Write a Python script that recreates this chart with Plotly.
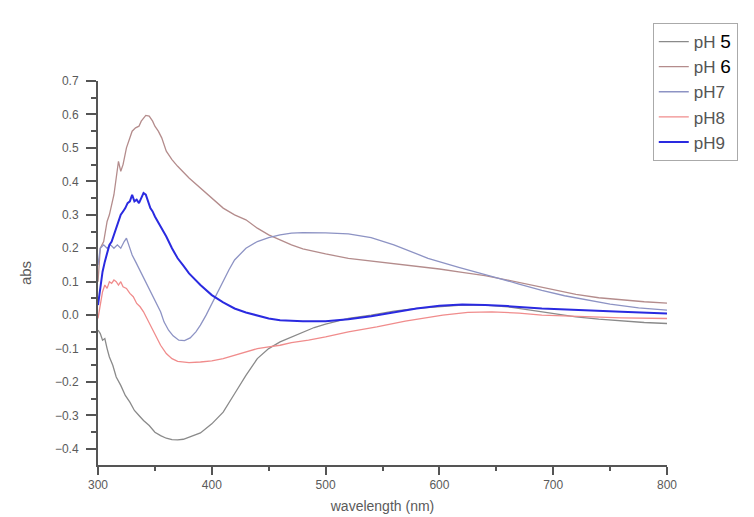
import plotly.graph_objects as go

# ---- data ----
wl_ph5 = [300, 302, 304, 306, 308, 310, 313, 316, 320, 324, 328, 332, 336, 340, 345, 350, 355, 360, 365,
          370, 375, 380, 390, 400, 410, 420, 430, 440, 450, 460, 470, 480, 490, 500, 520, 540, 560, 580,
          600, 620, 640, 660, 680, 700, 720, 740, 760, 780, 800]
abs_ph5 = [-0.045, -0.055, -0.075, -0.07, -0.1, -0.125, -0.15, -0.185, -0.21, -0.24, -0.26, -0.285, -0.3,
           -0.315, -0.33, -0.35, -0.36, -0.368, -0.372, -0.373, -0.371, -0.365, -0.352, -0.325, -0.29,
           -0.235, -0.18, -0.13, -0.1, -0.08, -0.065, -0.05, -0.037, -0.027, -0.01, 0.0, 0.012, 0.02,
           0.025, 0.03, 0.03, 0.025, 0.015, 0.005, -0.005, -0.012, -0.018, -0.022, -0.025]

wl_ph6 = [300, 302, 305, 308, 310, 312, 314, 316, 318, 320, 322, 325, 328, 330, 333, 336, 338, 340, 342,
          345, 348, 350, 353, 356, 360, 365, 370, 380, 390, 400, 410, 420, 430, 440, 450, 460, 470, 480,
          490, 500, 520, 540, 560, 580, 600, 620, 640, 660, 680, 700, 720, 740, 760, 780, 800]
abs_ph6 = [0.1, 0.2, 0.22, 0.28, 0.3, 0.33, 0.36, 0.41, 0.46, 0.43, 0.45, 0.5, 0.53, 0.55, 0.56, 0.565,
           0.58, 0.59, 0.597, 0.595, 0.58, 0.565, 0.55, 0.53, 0.49, 0.465, 0.445, 0.41, 0.38, 0.35, 0.32,
           0.3, 0.285, 0.26, 0.24, 0.225, 0.21, 0.198, 0.19, 0.183, 0.17, 0.162, 0.155, 0.147, 0.138,
           0.128, 0.118, 0.105, 0.09, 0.075, 0.062, 0.052, 0.045, 0.04, 0.036]

wl_ph7 = [300, 302, 305, 308, 311, 314, 317, 320, 323, 325, 327, 330, 333, 336, 339, 342, 345, 348, 351,
          355, 358, 362, 366, 371, 376, 381, 386, 390, 395, 400, 405, 410, 415, 420, 430, 440, 450, 460,
          470, 480, 490, 500, 520, 540, 560, 573, 590, 617, 630, 649, 670, 690, 710, 730, 750, 775, 800]
abs_ph7 = [0.15, 0.2, 0.21, 0.2, 0.21, 0.2, 0.21, 0.2, 0.22, 0.23, 0.21, 0.18, 0.16, 0.14, 0.12, 0.1,
           0.08, 0.06, 0.04, 0.01, -0.02, -0.045, -0.062, -0.075, -0.076, -0.068, -0.05, -0.03, 0.0,
           0.035, 0.065, 0.1, 0.135, 0.165, 0.2, 0.22, 0.232, 0.24, 0.245, 0.247, 0.247, 0.246, 0.243,
           0.232, 0.21, 0.192, 0.17, 0.143, 0.13, 0.113, 0.093, 0.074, 0.058, 0.045, 0.033, 0.022, 0.015]

wl_ph8 = [300, 302, 304, 306, 308, 310, 312, 314, 316, 318, 320, 322, 325, 328, 331, 334, 337, 340, 343,
          346, 350, 355, 360, 365, 370, 380, 390, 400, 410, 420, 430, 440, 450, 460, 470, 485, 500, 520,
          545, 570, 603, 625, 646, 670, 690, 720, 760, 800]
abs_ph8 = [-0.01, 0.03, 0.07, 0.09, 0.08, 0.1, 0.095, 0.105, 0.1, 0.09, 0.1, 0.085, 0.08, 0.065, 0.055,
           0.035, 0.025, 0.01, -0.01, -0.03, -0.06, -0.09, -0.115, -0.13, -0.138, -0.142, -0.14, -0.137,
           -0.13, -0.12, -0.11, -0.1, -0.095, -0.09, -0.082, -0.075, -0.065, -0.05, -0.035, -0.018,
           0.0, 0.008, 0.01, 0.006, 0.0, -0.004, -0.008, -0.01]

wl_ph9 = [300, 302, 304, 306, 308, 310, 312, 314, 316, 318, 320, 322, 324, 326, 328, 330, 332, 334, 336,
          338, 340, 342, 344, 346, 348, 350, 355, 360, 365, 370, 375, 380, 390, 400, 410, 420, 430, 440,
          450, 460, 480, 500, 520, 540, 560, 580, 600, 620, 640, 660, 690, 720, 760, 800]
abs_ph9 = [0.03, 0.08, 0.13, 0.16, 0.19, 0.21, 0.22, 0.24, 0.26, 0.28, 0.3, 0.31, 0.32, 0.335, 0.34, 0.36,
           0.34, 0.345, 0.335, 0.35, 0.365, 0.36, 0.34, 0.32, 0.31, 0.295, 0.265, 0.235, 0.2, 0.17, 0.148,
           0.125, 0.09, 0.06, 0.038, 0.02, 0.008, -0.002, -0.01, -0.015, -0.018, -0.018, -0.012, -0.003,
           0.008, 0.02, 0.028, 0.032, 0.03, 0.027, 0.02, 0.015, 0.01, 0.005]

x_ticks = [300, 400, 500, 600, 700, 800]
y_ticks = [0.7, 0.6, 0.5, 0.4, 0.3, 0.2, 0.1, 0.0, -0.1, -0.2, -0.3, -0.4]

series = [
    ("pH <span style='color:#000000;font-size:19px'>5</span>", wl_ph5, abs_ph5, "#8a8a8a", 1.3),
    ("pH <span style='color:#000000;font-size:19px'>6</span>", wl_ph6, abs_ph6, "#b48c8c", 1.3),
    ("pH7", wl_ph7, abs_ph7, "#8d93c4", 1.3),
    ("pH8", wl_ph8, abs_ph8, "#f08c8c", 1.3),
    ("pH9", wl_ph9, abs_ph9, "#2a2ae0", 2.0),
]

fig = go.Figure()
for name, x, y, color, w in series:
    fig.add_trace(go.Scatter(x=x, y=y, mode="lines", name=name,
                             line=dict(color=color, width=w)))

FONT = "Liberation Sans, Arial, sans-serif"
axis_common = dict(
    showline=True, linecolor="#555555", linewidth=2, showgrid=False, zeroline=False,
    ticks="outside", tickwidth=1.5, tickcolor="#555555",
    tickfont=dict(family=FONT, size=12, color="#5a5a5a"),
)

fig.update_xaxes(range=[300, 800], tickvals=x_ticks, ticklen=8,
                 minor=dict(dtick=50, ticks="outside", ticklen=4, tickcolor="#555555"),
                 title=dict(text="wavelength (nm)",
                            font=dict(family=FONT, size=14, color="#5a5a5a"),
                            standoff=10),
                 **axis_common)
fig.update_yaxes(range=[-0.448, 0.7], tickvals=y_ticks, tickformat=".1f", ticklen=10,
                 ticklabelstandoff=5,
                 minor=dict(dtick=0.05, ticks="outside", ticklen=5, tickcolor="#555555"),
                 title=dict(text="abs",
                            font=dict(family=FONT, size=15, color="#5a5a5a"),
                            standoff=20),
                 **axis_common)

fig.update_layout(
    width=754, height=517,
    margin=dict(l=90, r=95, t=73, b=60, autoexpand=False),
    plot_bgcolor="white", paper_bgcolor="white",
    showlegend=True,
    legend=dict(x=0.975, y=1.151, xanchor="left", yanchor="top",
                bordercolor="#aaaaaa", borderwidth=1, bgcolor="white",
                font=dict(family=FONT, size=17, color="#555555"),
                tracegroupgap=0),
)

fig.write_html("out.html")
